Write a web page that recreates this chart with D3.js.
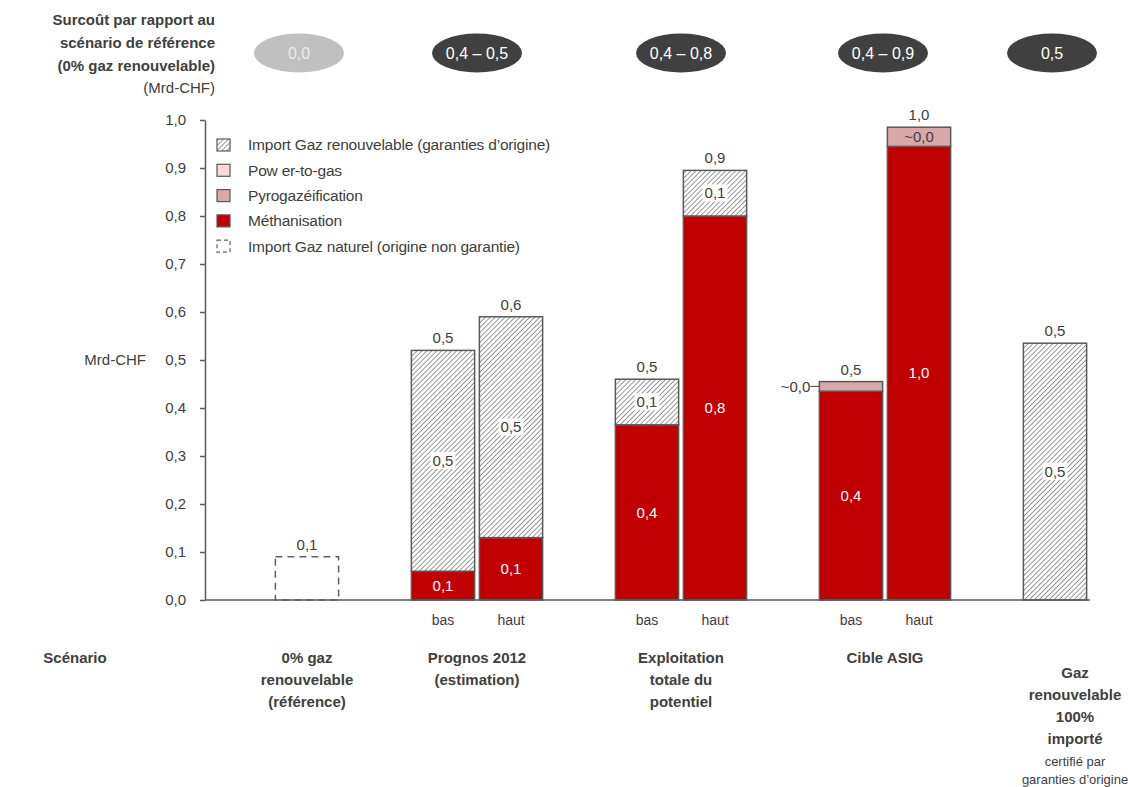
<!DOCTYPE html>
<html>
<head>
<meta charset="utf-8">
<script src="https://cdn.jsdelivr.net/npm/d3@7.9.0/dist/d3.min.js"></script>
<style>
  body { margin: 0; background: #fff; }
  svg { display: block; font-family: "Liberation Sans", Arial, sans-serif; }
  text { fill: #404040; }
</style>
</head>
<body>
<svg id="chart" width="1128" height="787"></svg>
<script>
// slots along the x axis (empty ones separate the scenarios)
const slotKeys = ['ref', 'gap1', 'prognos-bas', 'prognos-haut', 'gap2', 'expl-bas', 'expl-haut', 'gap3', 'asig-bas', 'asig-haut', 'gap4', 'import'];

const barKeys = ['ref', 'prognos-bas', 'prognos-haut', 'expl-bas', 'expl-haut', 'asig-bas', 'asig-haut', 'import'];
const subLabels = ['', 'bas', 'haut', 'bas', 'haut', 'bas', 'haut', ''];

// Mrd-CHF
const gazNaturel = [0.09, 0, 0, 0, 0, 0, 0, 0];
const methanisation = [0, 0.06, 0.13, 0.365, 0.80, 0.435, 0.945, 0];
const pyrogazeification = [0, 0, 0, 0, 0, 0.02, 0.04, 0];
const powerToGas = [0, 0, 0, 0, 0, 0, 0, 0];
const importRenouvelable = [0, 0.46, 0.46, 0.095, 0.095, 0, 0, 0.535];

const totalLabels = ['0,1', '0,5', '0,6', '0,5', '0,9', '0,5', '1,0', '0,5'];
const methLabels = ['', '0,1', '0,1', '0,4', '0,8', '0,4', '1,0', ''];
const importLabels = ['', '0,5', '0,5', '0,1', '0,1', '', '', '0,5'];
const pyroLabels = ['', '', '', '', '', '~0,0', '~0,0', ''];

const scenarioNames = [
  ['0% gaz', 'renouvelable', '(référence)'],
  ['Prognos 2012', '(estimation)'],
  ['Exploitation', 'totale du', 'potentiel'],
  ['Cible ASIG'],
  ['Gaz', 'renouvelable', '100%', 'importé']
];
const scenarioSlots = [['ref'], ['prognos-bas', 'prognos-haut'], ['expl-bas', 'expl-haut'], ['asig-bas', 'asig-haut'], ['import']];
const surcout = ['0,0', '0,4 – 0,5', '0,4 – 0,8', '0,4 – 0,9', '0,5'];

const legendItems = ['Import Gaz renouvelable (garanties d’origine)', 'Pow er-to-gas', 'Pyrogazéification', 'Méthanisation', 'Import Gaz naturel (origine non garantie)'];
const legendKeys = ['import', 'p2g', 'pyro', 'meth', 'naturel'];

const colors = { meth: '#c00000', pyro: '#dba8a9', p2g: '#ffd9d9', import: 'url(#hatch)', naturel: 'none' };
const outline = '#595959';

const svg = d3.select('#chart');

const defs = svg.append('defs');
const hs = 3.5;
const pat = defs.append('pattern')
  .attr('id', 'hatch')
  .attr('patternUnits', 'userSpaceOnUse')
  .attr('width', hs)
  .attr('height', hs)
  .attr('patternTransform', 'rotate(45)');
pat.append('rect').attr('width', hs).attr('height', hs).attr('fill', '#fff');
pat.append('line')
  .attr('x1', 0).attr('y1', 0).attr('x2', 0).attr('y2', hs)
  .attr('stroke', '#777').attr('stroke-width', 1.5);

const x = d3.scaleBand()
  .domain(slotKeys)
  .range([273, 1089])
  .paddingInner(0.07)
  .paddingOuter(0.035);

const y = d3.scaleLinear().domain([0, 1]).range([600, 120]);
const fmt = d => d3.format('.1f')(d).replace('.', ',');

// y axis
const yAxis = d3.axisLeft(y).tickValues(d3.range(0, 1.01, 0.1)).tickFormat(fmt).tickSize(5).tickSizeOuter(0).tickPadding(14);
const ag = svg.append('g').attr('transform', 'translate(205,0)').call(yAxis);
ag.select('.domain').attr('stroke', outline).attr('stroke-width', 1.5);
ag.selectAll('.tick line').attr('stroke', outline).attr('stroke-width', 1.5);
ag.selectAll('.tick text').attr('fill', '#404040').style('font-size', '15px').style('font-family', '"Liberation Sans", Arial, sans-serif');

svg.append('text').attr('x', 146).attr('y', y(0.5)).attr('dy', '0.35em')
  .attr('text-anchor', 'end').style('font-size', '15px').text('Mrd-CHF');

// stacked bars
const rows = barKeys.map((k, i) => ({
  key: k,
  naturel: gazNaturel[i],
  meth: methanisation[i],
  pyro: pyrogazeification[i],
  p2g: powerToGas[i],
  import: importRenouvelable[i]
}));
const series = d3.stack().keys(['naturel', 'meth', 'pyro', 'p2g', 'import'])(rows);

const bars = svg.append('g');
series.forEach(s => {
  bars.selectAll(null)
    .data(s.filter(d => d[1] - d[0] > 0))
    .join('rect')
    .attr('x', d => x(d.data.key))
    .attr('width', x.bandwidth())
    .attr('y', d => y(d[1]))
    .attr('height', d => y(d[0]) - y(d[1]))
    .attr('fill', colors[s.key])
    .attr('stroke', s.key === 'naturel' ? '#606060' : outline)
    .attr('stroke-width', 1.5)
    .attr('stroke-dasharray', s.key === 'naturel' ? '7,5' : null);
});

// baseline
svg.append('line').attr('x1', 205).attr('x2', 1090).attr('y1', y(0)).attr('y2', y(0))
  .attr('stroke', outline).attr('stroke-width', 1.5);

const cx = k => x(k) + x.bandwidth() / 2;
const labels = svg.append('g').style('font-size', '15px');

// totals
rows.forEach((r, i) => {
  const top = r.naturel + r.meth + r.pyro + r.p2g + r.import;
  labels.append('text').attr('x', cx(r.key)).attr('y', y(top) - 7)
    .attr('text-anchor', 'middle').text(totalLabels[i]);
});

function boxedLabel(xc, yc, txt, bg, fg) {
  const t = labels.append('text').attr('x', xc).attr('y', yc).attr('dy', '0.35em')
    .attr('text-anchor', 'middle').style('fill', fg).text(txt);
  if (bg) {
    const b = t.node().getBBox();
    labels.insert('rect', () => t.node())
      .attr('x', b.x - 2).attr('y', b.y).attr('width', b.width + 4).attr('height', b.height)
      .attr('fill', bg);
  }
}

series.forEach(s => {
  s.forEach((d, i) => {
    const mid = y((d[0] + d[1]) / 2);
    if (s.key === 'meth' && methLabels[i]) boxedLabel(cx(d.data.key), mid, methLabels[i], null, '#fff');
    if (s.key === 'import' && importLabels[i]) boxedLabel(cx(d.data.key), mid, importLabels[i], '#fff', '#404040');
    if (s.key === 'pyro' && pyroLabels[i]) {
      if (d.data.key === 'asig-bas') {
        labels.append('line').attr('x1', x(d.data.key) - 9).attr('x2', x(d.data.key))
          .attr('y1', mid).attr('y2', mid).attr('stroke', outline).attr('stroke-width', 1.2);
        labels.append('text').attr('x', x(d.data.key) - 9).attr('y', mid).attr('dy', '0.35em')
          .attr('text-anchor', 'end').text(pyroLabels[i]);
      } else {
        boxedLabel(cx(d.data.key), mid, pyroLabels[i], colors.pyro, '#404040');
      }
    }
  });
});

// bas / haut
barKeys.forEach((k, i) => {
  if (subLabels[i]) svg.append('text').attr('x', cx(k)).attr('y', 620).attr('dy', '0.35em')
    .attr('text-anchor', 'middle').style('font-size', '14px').text(subLabels[i]);
});

// scenario names
svg.append('text').attr('x', 75).attr('y', 658).attr('dy', '0.35em').attr('text-anchor', 'middle')
  .style('font-size', '15px').style('font-weight', 'bold').text('Scénario');

const groupCenters = scenarioSlots.map(sl => d3.mean(sl, cx));
const labelShift = [0, 0, 0, 0, 20];
const labelTop = [658, 658, 658, 658, 673];
scenarioNames.forEach((lines, g) => {
  lines.forEach((ln, j) => {
    svg.append('text').attr('x', groupCenters[g] + labelShift[g]).attr('y', labelTop[g] + j * 22)
      .attr('dy', '0.35em').attr('text-anchor', 'middle')
      .style('font-size', '15px').style('font-weight', 'bold').text(ln);
  });
});
['certifié par', 'garanties d’origine'].forEach((ln, j) => {
  svg.append('text').attr('x', groupCenters[4] + labelShift[4]).attr('y', 761 + j * 18)
    .attr('dy', '0.35em').attr('text-anchor', 'middle').style('font-size', '13px').text(ln);
});

// header: surcoût
const head = ['Surcoût par rapport au', 'scénario de référence', '(0% gaz renouvelable)'];
head.forEach((ln, j) => {
  svg.append('text').attr('x', 215).attr('y', 20 + j * 23).attr('dy', '0.35em').attr('text-anchor', 'end')
    .style('font-size', '15px').style('font-weight', 'bold').text(ln);
});
svg.append('text').attr('x', 215).attr('y', 88).attr('dy', '0.35em').attr('text-anchor', 'end')
  .style('font-size', '15px').text('(Mrd-CHF)');

const pillShift = [-8, 0, 0, -2, -3];
surcout.forEach((v, g) => {
  const px = groupCenters[g] + pillShift[g];
  svg.append('ellipse').attr('cx', px).attr('cy', 53).attr('rx', 45).attr('ry', 19.5)
    .attr('fill', g === 0 ? '#c0c0c0' : '#404040');
  svg.append('text').attr('x', px).attr('y', 53).attr('dy', '0.35em').attr('text-anchor', 'middle')
    .style('font-size', '16px').style('fill', g === 0 ? '#ececec' : '#fff').text(v);
});

// legend
const lg = svg.append('g').attr('transform', 'translate(217,145)');
legendKeys.forEach((k, i) => {
  const row = lg.append('g').attr('transform', `translate(0,${i * 25.3})`);
  row.append('rect').attr('x', 0).attr('y', -6).attr('width', 13).attr('height', 12)
    .attr('fill', k === 'naturel' ? 'none' : colors[k])
    .attr('stroke', k === 'naturel' ? '#606060' : outline).attr('stroke-width', 1.2)
    .attr('stroke-dasharray', k === 'naturel' ? '4,3' : null);
  row.append('text').attr('x', 31).attr('y', 0).attr('dy', '0.35em')
    .style('font-size', '15.5px').style('letter-spacing', '-0.2px').text(legendItems[i]);
});
</script>
</body>
</html>
